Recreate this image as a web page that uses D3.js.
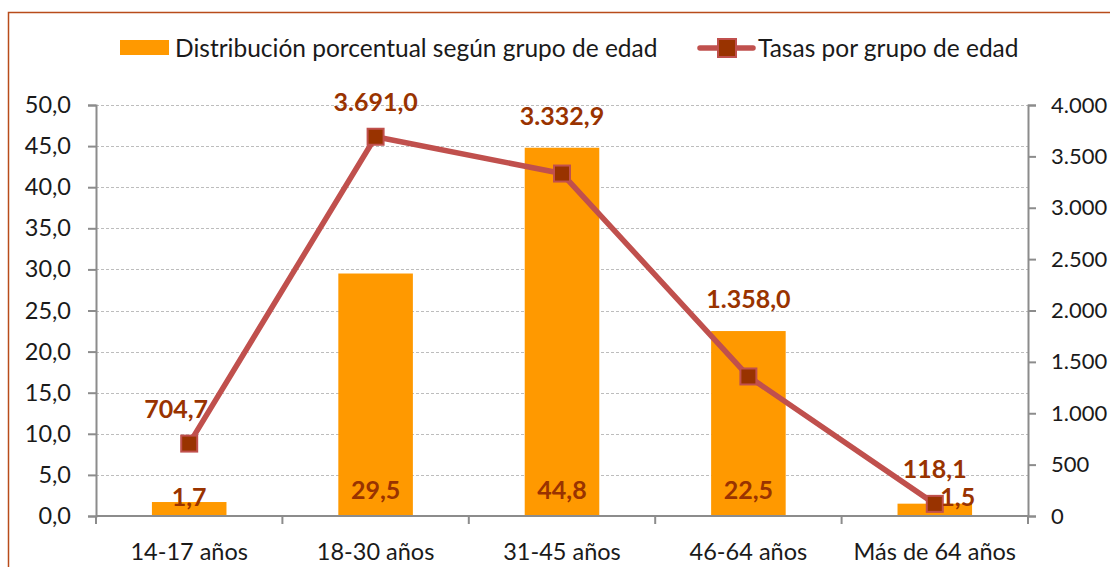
<!DOCTYPE html>
<html>
<head>
<meta charset="utf-8">
<script src="https://cdn.jsdelivr.net/npm/d3@7"></script>
<style>
  body { margin: 0; background: #fff; }
  svg text { font-family: Lato, "Open Sans", sans-serif; }
</style>
</head>
<body>
<div id="chart"></div>
<script>
// datos del grafico
var grupos = ["14-17 años", "18-30 años", "31-45 años", "46-64 años", "Más de 64 años"];
var distribucion = [1.7, 29.5, 44.8, 22.5, 1.5];
var tasas = [704.7, 3691.0, 3332.9, 1358.0, 118.1];
var ticksIzq = [0, 5, 10, 15, 20, 25, 30, 35, 40, 45, 50];
var ticksDer = [0, 500, 1000, 1500, 2000, 2500, 3000, 3500, 4000];
var nombreBarras = "Distribución porcentual según grupo de edad";
var nombreLinea = "Tasas por grupo de edad";

var W = 1110, H = 567;
var margin = {top: 105, right: 82, bottom: 51, left: 96};
var x0 = margin.left, x1 = W - margin.right, y0 = H - margin.bottom, y1 = margin.top;

var loc = d3.formatLocale({decimal: ",", thousands: ".", grouping: [3], currency: ["", "€"]});
var f1 = loc.format(",.1f"), f0 = loc.format(",.0f");

var colBarra = "#FF9900", colLinea = "#C0504D", colMarca = "#993300", colEtiq = "#993300";
var colTexto = "#1a1a1a";

var svg = d3.select("#chart").append("svg")
  .attr("width", W).attr("height", H);

svg.append("rect").attr("width", W).attr("height", H).attr("fill", "#fff");
// marco
svg.append("rect").attr("x", 8.5).attr("y", 12.5).attr("width", W).attr("height", H)
  .attr("fill", "none").attr("stroke", "#B84B1B").attr("stroke-width", 1.5);

var x = d3.scaleBand().domain(grupos).range([x0, x1]);
var yL = d3.scaleLinear().domain([0, 50]).range([y0, y1]);
var yR = d3.scaleLinear().domain([0, 4000]).range([y0, y1]);

// lineas de rejilla
svg.append("g").selectAll("line").data(ticksIzq.filter(function(d){ return d > 0; })).enter()
  .append("line")
  .attr("x1", x0).attr("x2", x1)
  .attr("y1", function(d){ return Math.round(yL(d)) + 0.5; })
  .attr("y2", function(d){ return Math.round(yL(d)) + 0.5; })
  .attr("stroke", "#BDBDBD").attr("stroke-width", 1).attr("stroke-dasharray", "3,2");

// barras
var bw = x.bandwidth() * 0.4;
svg.append("g").selectAll("rect").data(distribucion).enter().append("rect")
  .attr("x", function(d, i){ return x(grupos[i]) + (x.bandwidth() - bw) / 2; })
  .attr("y", function(d){ return yL(d); })
  .attr("width", bw)
  .attr("height", function(d){ return y0 - yL(d); })
  .attr("fill", colBarra);

// ejes
var ejeIzq = svg.append("g").attr("transform", "translate(" + x0 + ",0)")
  .call(d3.axisLeft(yL).tickValues(ticksIzq).tickFormat(f1).tickSize(8).tickPadding(17));
var ejeDer = svg.append("g").attr("transform", "translate(" + x1 + ",0)")
  .call(d3.axisRight(yR).tickValues(ticksDer).tickFormat(f0).tickSize(8).tickPadding(15));
var bordes = x.domain().map(function(g){ return x(g); }).concat([x1]);
var ejeX = svg.append("g").attr("transform", "translate(0," + y0 + ")");
ejeX.append("line").attr("x1", x0).attr("x2", x1).attr("stroke", "#8C8C8C").attr("stroke-width", 2);
ejeX.selectAll("line.t").data(bordes).enter().append("line").attr("class", "t")
  .attr("x1", function(d){ return d; }).attr("x2", function(d){ return d; })
  .attr("y1", 0).attr("y2", 8).attr("stroke", "#8C8C8C").attr("stroke-width", 2);
ejeX.selectAll("text").data(grupos).enter().append("text")
  .attr("x", function(d){ return x(d) + x.bandwidth() / 2; })
  .attr("y", 44).attr("text-anchor", "middle")
  .attr("font-size", 23.5).attr("fill", colTexto).text(function(d){ return d; });

[ejeIzq, ejeDer].forEach(function(g){
  g.select(".domain").attr("stroke", "#8C8C8C").attr("stroke-width", 2);
  g.selectAll(".tick line").attr("stroke", "#8C8C8C").attr("stroke-width", 2);
  g.selectAll(".tick text").attr("font-size", 23.5).attr("fill", colTexto)
    .attr("font-family", "Lato, 'Open Sans', sans-serif");
});
// el eje derecho queda pegado al borde: letra algo menor para que quepa
ejeDer.selectAll(".tick text").attr("font-size", 22);

// linea de tasas
var linea = d3.line()
  .x(function(d, i){ return x(grupos[i]) + x.bandwidth() / 2; })
  .y(function(d){ return yR(d); });
svg.append("path").datum(tasas).attr("d", linea)
  .attr("fill", "none").attr("stroke", colLinea).attr("stroke-width", 5.5)
  .attr("stroke-linejoin", "round");
svg.append("g").selectAll("rect").data(tasas).enter().append("rect")
  .attr("x", function(d, i){ return x(grupos[i]) + x.bandwidth() / 2 - 8; })
  .attr("y", function(d){ return yR(d) - 8; })
  .attr("width", 16).attr("height", 16)
  .attr("fill", colMarca).attr("stroke", colLinea).attr("stroke-width", 2);

// etiquetas de las barras (en la base)
svg.append("g").selectAll("text").data(distribucion).enter().append("text")
  .attr("x", function(d, i){ return x(grupos[i]) + x.bandwidth() / 2 + (i === grupos.length - 1 ? 23 : 0); })
  .attr("y", function(d){ return (y0 - yL(d) < 20 ? y0 - 19 : y0 - 26) + 9; })
  .attr("text-anchor", "middle").attr("font-size", 25).attr("font-weight", "bold")
  .attr("fill", colEtiq).text(function(d){ return f1(d); });

// etiquetas de la linea (encima del punto o de la barra)
svg.append("g").selectAll("text").data(tasas).enter().append("text")
  .attr("x", function(d, i){ return x(grupos[i]) + x.bandwidth() / 2 + (i === 0 ? -13 : 0); })
  .attr("y", function(d, i){ return Math.min(yR(d) - 35, yL(distribucion[i]) - 32) + 9; })
  .attr("text-anchor", "middle").attr("font-size", 25).attr("font-weight", "bold")
  .attr("fill", colEtiq).text(function(d){ return f1(d); });

// leyenda
var ley = svg.append("g");
ley.append("rect").attr("x", 120).attr("y", 40).attr("width", 49).attr("height", 15).attr("fill", colBarra);
ley.append("text").attr("x", 175).attr("y", 57).attr("font-size", 24.5).attr("fill", colTexto).text(nombreBarras);
ley.append("line").attr("x1", 700).attr("x2", 753).attr("y1", 48).attr("y2", 48)
  .attr("stroke", colLinea).attr("stroke-width", 5.5).attr("stroke-linecap", "round");
ley.append("rect").attr("x", 718).attr("y", 39).attr("width", 18).attr("height", 18)
  .attr("fill", colMarca).attr("stroke", colLinea).attr("stroke-width", 2);
ley.append("text").attr("x", 758).attr("y", 57).attr("font-size", 24.5).attr("fill", colTexto).text(nombreLinea);
</script>
</body>
</html>
